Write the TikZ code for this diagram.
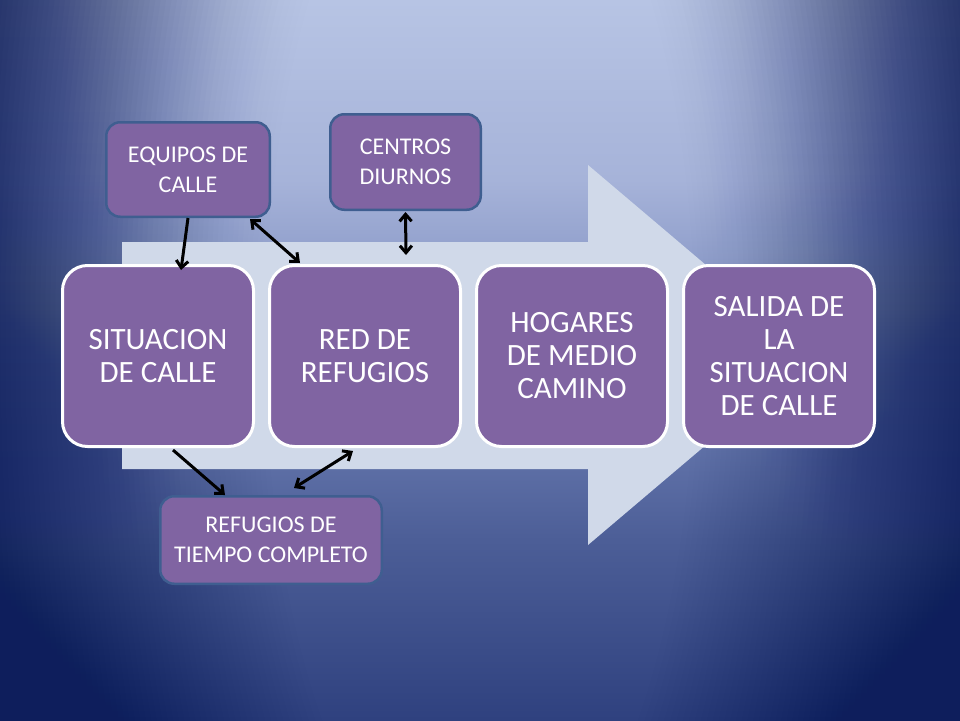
\documentclass[tikz,border=0pt]{standalone}
\usepackage{fontspec}
\setmainfont{Carlito}
\usetikzlibrary{arrows.meta}
\definecolor{bgdark}{HTML}{0E1E5C}
\definecolor{bgva}{HTML}{2F417F}
\definecolor{bgvb}{HTML}{4C5E97}
\definecolor{bgvc}{HTML}{7586BA}
\definecolor{bgvd}{HTML}{A6B3D9}
\definecolor{bgve}{HTML}{B7C4E4}
\definecolor{arrowfill}{HTML}{D0D9E9}
\definecolor{boxpurple}{HTML}{8064A2}
\definecolor{boxedge}{HTML}{3F5E90}
\pgfdeclareverticalshading{bgfall}{100bp}{color(0bp)=(bgva); color(25bp)=(bgva); color(37.5bp)=(bgvb); color(50bp)=(bgvc); color(62.5bp)=(bgvd); color(75bp)=(bgve); color(100bp)=(bgve)}
\tikzset{
	stage/.style={draw=white, line width=3pt, fill=boxpurple, rounded corners=25pt, minimum width=191pt, minimum height=181pt, text=white, align=center, font=\fontsize{31}{33}\selectfont},
	helper/.style={draw=boxedge, line width=2.5pt, fill=boxpurple, rounded corners=14pt, text=white, align=center, font=\fontsize{24}{30}\selectfont},
	link/.style={line width=3pt, >={Straight Barb[length=7pt,width=12pt]}}
}
\begin{document}
\begin{tikzpicture}[x=1pt, y=-1pt]
	\useasboundingbox (0,0) rectangle (960,720);
	\begin{scope}
		\clip (0,0) rectangle (960,720);
		\shade[shading=bgfall] (0,0) rectangle (960,720);
		\foreach \k in {1,...,80}{
			\pgfmathsetmacro{\sc}{1+0.025*\k}
			\pgfmathsetmacro{\op}{1-exp(-0.0004375*(2*\k-1))}
			\fill[bgdark, opacity=\op, even odd rule] (-10,-10) rectangle (970,730) (480,340) ellipse [x radius=200*\sc, y radius=520*\sc];
		}
	\end{scope}

	\fill[arrowfill] (122,242) -- (588,242) -- (588,165) -- (812,355) -- (588,545) -- (588,469) -- (122,469) -- cycle;

	\node[stage] (sit) at (158,356) {SITUACION\\DE CALLE};
	\node[stage] (red) at (365,356) {RED DE\\REFUGIOS};
	\node[stage] (hog) at (572,356) {HOGARES\\DE MEDIO\\CAMINO};
	\node[stage] (sal) at (779,356) {SALIDA DE\\LA\\SITUACION\\DE CALLE};

	\node[helper, minimum width=163.5pt, minimum height=94.5pt] (equ) at (188,169.5) {EQUIPOS DE\\CALLE};
	\node[helper, minimum width=150.5pt, minimum height=95.5pt] (cen) at (405.5,162) {CENTROS\\DIURNOS};
	\node[helper, minimum width=221.5pt, minimum height=87.5pt] (ref) at (271,540) {REFUGIOS DE\\TIEMPO COMPLETO};

	\draw[link,->] (equ.south) -- ([xshift=23pt,yshift=-6pt]sit.north);
	\draw[link,<->] ([xshift=-21pt,yshift=-1pt]equ.south east) -- ([xshift=32pt,yshift=1pt]red.north west);
	\draw[link,<->] ([yshift=-1pt]cen.south) -- ([xshift=41pt,yshift=9pt]red.north);
	\draw[link,->] ([xshift=15pt,yshift=-2pt]sit.south) -- ([xshift=-46pt]ref.north);
	\draw[link,<->] ([xshift=-12pt,yshift=-3pt]red.south) -- ([xshift=23pt,yshift=7pt]ref.north);
\end{tikzpicture}
\end{document}
